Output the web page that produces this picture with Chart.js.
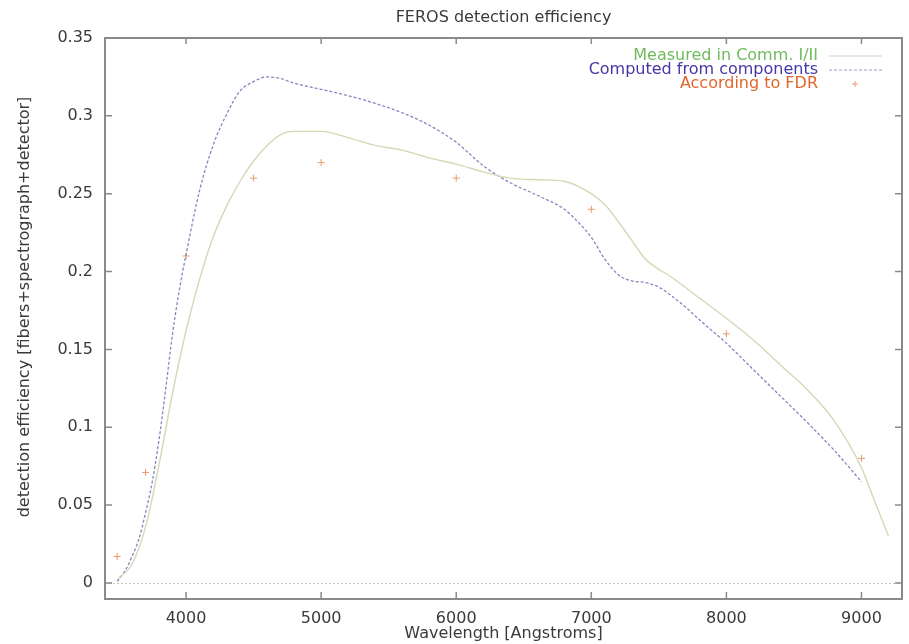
<!DOCTYPE html>
<html>
<head>
<meta charset="utf-8">
<title>FEROS detection efficiency</title>
<script src="https://cdn.jsdelivr.net/npm/chart.js@4.4.1/dist/chart.umd.min.js"></script>
<style>
  html, body { margin: 0; padding: 0; background: #fff; }
  #wrap { width: 909px; height: 644px; }
</style>
</head>
<body>
<div id="wrap"><canvas id="chart" width="909" height="644"></canvas></div>
<script>
// --- data ---
const MEASURED_WL  = [3500, 3600, 3700, 3800, 3900, 4000, 4100, 4200, 4300, 4400, 4500, 4600, 4700, 4800, 5000, 5200, 5400, 5600, 5800, 6000, 6200, 6400, 6600, 6800, 7000, 7100, 7200, 7300, 7400, 7600, 7800, 8000, 8200, 8400, 8600, 8800, 9000, 9100, 9200];
const MEASURED_EFF = [0.003, 0.012, 0.036, 0.076, 0.122, 0.162, 0.195, 0.222, 0.242, 0.258, 0.271, 0.281, 0.288, 0.290, 0.290, 0.286, 0.281, 0.278, 0.273, 0.269, 0.264, 0.260, 0.259, 0.258, 0.250, 0.243, 0.232, 0.220, 0.208, 0.196, 0.183, 0.170, 0.156, 0.140, 0.124, 0.104, 0.074, 0.052, 0.030];

const COMPUTED_WL  = [3490, 3550, 3600, 3650, 3700, 3750, 3800, 3850, 3900, 3950, 4000, 4100, 4200, 4300, 4400, 4500, 4600, 4700, 4800, 5000, 5200, 5400, 5600, 5800, 6000, 6200, 6400, 6600, 6800, 6900, 7000, 7100, 7200, 7300, 7400, 7500, 7600, 7700, 7800, 8000, 8200, 8400, 8600, 8800, 9000];
const COMPUTED_EFF = [0.001, 0.008, 0.017, 0.028, 0.045, 0.065, 0.092, 0.125, 0.160, 0.188, 0.211, 0.252, 0.281, 0.301, 0.316, 0.322, 0.325, 0.324, 0.321, 0.317, 0.313, 0.308, 0.302, 0.294, 0.283, 0.268, 0.257, 0.249, 0.240, 0.232, 0.222, 0.208, 0.198, 0.194, 0.193, 0.190, 0.184, 0.177, 0.169, 0.154, 0.137, 0.120, 0.103, 0.085, 0.065];

const FDR_WL  = [3490, 3700, 4000, 4500, 5000, 6000, 7000, 8000, 9000];
const FDR_EFF = [0.017, 0.071, 0.210, 0.260, 0.270, 0.260, 0.240, 0.160, 0.080];

const X_TICKS = [4000, 5000, 6000, 7000, 8000, 9000];
const Y_TICKS = [0, 0.05, 0.1, 0.15, 0.2, 0.25, 0.3, 0.35];

const toXY = (xs, ys) => xs.map((x, i) => ({ x: x, y: ys[i] }));

const FONT = "'DejaVu Sans', 'Liberation Sans', sans-serif";
const TEXT = "#3a3a3a";

// gnuplot-like frame, inner ticks, zero axis, titles and key
const gnuplotDecor = {
  id: "gnuplotDecor",
  beforeDatasetsDraw(chart) {
    const { ctx, chartArea: a, scales: { y } } = chart;
    ctx.save();
    ctx.strokeStyle = "rgba(150,150,150,0.55)";
    ctx.lineWidth = 1;
    ctx.setLineDash([2, 2]);
    const y0 = Math.round(y.getPixelForValue(0)) + 0.5;
    ctx.beginPath(); ctx.moveTo(a.left, y0); ctx.lineTo(a.right, y0); ctx.stroke();
    ctx.restore();
  },
  afterDraw(chart) {
    const { ctx, chartArea: a, scales: { x, y } } = chart;
    ctx.save();
    // frame
    ctx.strokeStyle = "#8a8a8a";
    ctx.lineWidth = 2;
    ctx.strokeRect(a.left, a.top, a.right - a.left, a.bottom - a.top);
    // inner ticks, mirrored
    ctx.lineWidth = 1.5;
    ctx.beginPath();
    X_TICKS.forEach(v => {
      const px = x.getPixelForValue(v);
      ctx.moveTo(px, a.bottom); ctx.lineTo(px, a.bottom - 7);
      ctx.moveTo(px, a.top); ctx.lineTo(px, a.top + 6);
    });
    Y_TICKS.forEach(v => {
      const py = y.getPixelForValue(v);
      ctx.moveTo(a.left, py); ctx.lineTo(a.left + 7, py);
      ctx.moveTo(a.right, py); ctx.lineTo(a.right - 7, py);
    });
    ctx.stroke();

    ctx.fillStyle = TEXT;
    ctx.textBaseline = "middle";
    ctx.textAlign = "center";
    // title
    ctx.font = "16px " + FONT;
    ctx.fillText("FEROS detection efficiency", (a.left + a.right) / 2, 18);
    // x axis title
    ctx.fillText("Wavelength [Angstroms]", (a.left + a.right) / 2, 634);
    // y axis title
    ctx.save();
    ctx.translate(25, 307);
    ctx.rotate(-Math.PI / 2);
    ctx.fillText("detection efficiency [fibers+spectrograph+detector]", 0, 0);
    ctx.restore();

    // key
    const rows = [
      { text: "Measured in Comm. I/II", color: "#6fbb5e", kind: "line" },
      { text: "Computed from components", color: "#4437a6", kind: "dash" },
      { text: "According to FDR", color: "#e2662c", kind: "point" }
    ];
    ctx.textAlign = "right";
    rows.forEach((r, i) => {
      const ry = 56 + i * 14;
      ctx.fillStyle = r.color;
      ctx.fillText(r.text, 818, ry);
      if (r.kind === "line") {
        ctx.strokeStyle = "#cdd0c8"; ctx.lineWidth = 1.2; ctx.setLineDash([]);
        ctx.beginPath(); ctx.moveTo(829, ry); ctx.lineTo(882, ry); ctx.stroke();
      } else if (r.kind === "dash") {
        ctx.strokeStyle = "#9a9ac8"; ctx.lineWidth = 1.2; ctx.setLineDash([3, 2]);
        ctx.beginPath(); ctx.moveTo(829, ry); ctx.lineTo(882, ry); ctx.stroke();
        ctx.setLineDash([]);
      } else {
        ctx.strokeStyle = "#e8a070"; ctx.lineWidth = 1;
        ctx.beginPath();
        ctx.moveTo(852, ry); ctx.lineTo(858, ry);
        ctx.moveTo(855, ry - 3); ctx.lineTo(855, ry + 3);
        ctx.stroke();
      }
    });
    ctx.restore();
  }
};

new Chart(document.getElementById("chart"), {
  type: "scatter",
  data: {
    datasets: [
      {
        label: "Measured in Comm. I/II",
        data: toXY(MEASURED_WL, MEASURED_EFF),
        showLine: true,
        borderColor: "#d3d9b4",
        borderWidth: 1.4,
        pointRadius: 0,
        tension: 0.4,
        cubicInterpolationMode: "monotone"
      },
      {
        label: "Computed from components",
        data: toXY(COMPUTED_WL, COMPUTED_EFF),
        showLine: true,
        borderColor: "#8686c0",
        borderWidth: 1.3,
        borderDash: [3, 2],
        pointRadius: 0,
        tension: 0.4,
        cubicInterpolationMode: "monotone"
      },
      {
        label: "According to FDR",
        data: toXY(FDR_WL, FDR_EFF),
        showLine: false,
        pointStyle: "cross",
        pointRadius: 3.5,
        borderColor: "#e89a68",
        borderWidth: 1,
        backgroundColor: "#e89a68"
      }
    ]
  },
  options: {
    responsive: false,
    animation: false,
    layout: { padding: { top: 38, right: 7, left: 0, bottom: 0 } },
    plugins: { legend: { display: false }, tooltip: { enabled: false }, title: { display: false } },
    scales: {
      x: {
        type: "linear",
        min: 3400,
        max: 9300,
        afterBuildTicks: s => { s.ticks = X_TICKS.map(v => ({ value: v })); },
        afterFit: s => { s.height = 45; },
        grid: { display: false, drawTicks: false },
        border: { display: false },
        ticks: {
          color: TEXT,
          font: { family: FONT, size: 16 },
          padding: 10,
          maxRotation: 0,
          callback: v => String(v)
        }
      },
      y: {
        type: "linear",
        min: -0.0103,
        max: 0.35,
        afterBuildTicks: s => { s.ticks = Y_TICKS.map(v => ({ value: v })); },
        afterFit: s => { s.width = 105; },
        grid: { display: false, drawTicks: false },
        border: { display: false },
        ticks: {
          color: TEXT,
          font: { family: FONT, size: 16 },
          padding: 12,
          callback: v => String(Math.round(v * 100) / 100)
        }
      }
    }
  },
  plugins: [gnuplotDecor]
});
</script>
</body>
</html>
